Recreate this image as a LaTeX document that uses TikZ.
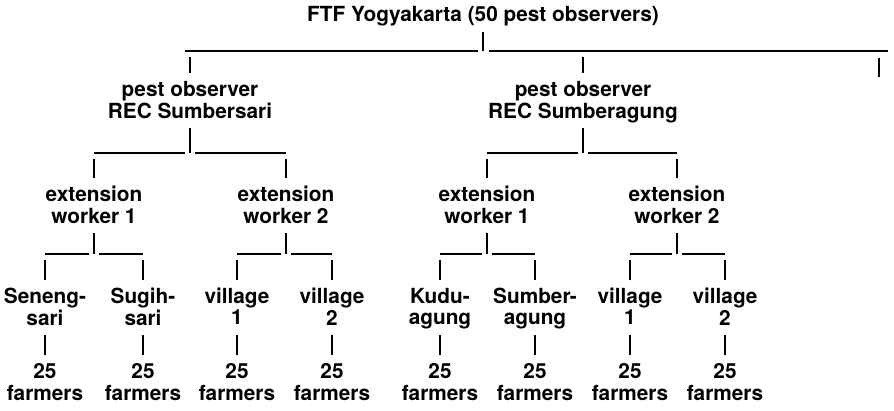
\documentclass[tikz,border=0pt]{standalone}
\usepackage{fontspec}
\setmainfont{TeX Gyre Heros}
\usetikzlibrary{calc}
\newcommand\twoline[2]{\begin{tabular}[t]{@{}c@{}}#1\\#2\end{tabular}}
\newcommand\fork[4]{%
  \draw[conn] (#1.south) -- (#1 |- #4);
  \draw[conn] ([xshift=-5pt]#1 |- #4) -- (#2 |- #4);
  \draw[conn] ([xshift=5pt]#1 |- #4) -- (#3 |- #4);
  \draw[conn] ([yshift=-6pt]#2 |- #4) -- (#2.north);
  \draw[conn] ([yshift=-6pt]#3 |- #4) -- (#3.north);
}
\begin{document}
\begin{tikzpicture}[x=1pt,y=-1pt,
  txt/.style={font=\fontsize{20.8}{20.5}\selectfont\bfseries, inner xsep=0pt, anchor=base},
  lbl/.style={txt, inner ysep=9pt, text height=15pt, text depth=21.5pt},
  ttl/.style={txt, inner ysep=6pt, text height=15pt, text depth=4pt},
  conn/.style={line width=1.1pt, line cap=butt}]
\useasboundingbox (0,0) rectangle (894,411);
\fill[white] (0,0) rectangle (894,411);

% title
\node[ttl] (root) at (483,22) {FTF Yogyakarta (50 pest observers)};

% level 1
\node[lbl] (p1) at (190,97) {\twoline{pest observer}{REC Sumbersari}};
\node[lbl] (p2) at (583,97) {\twoline{pest observer}{REC Sumberagung}};
\coordinate (p3) at (879,77);
\coordinate (barA) at (0,51);
\coordinate (barAend) at (888,51);

% level 2
\node[lbl] (e1) at (94,202) {\twoline{extension}{worker 1}};
\node[lbl] (e2) at (286,202) {\twoline{extension}{worker 2}};
\node[lbl] (e3) at (487,202) {\twoline{extension}{worker 1}};
\node[lbl] (e4) at (677,202) {\twoline{extension}{worker 2}};
\coordinate (barB) at (0,153);

% level 3
\node[lbl] (v1) at (45,304) {\twoline{Seneng-}{sari}};
\node[lbl] (v2) at (143,304) {\twoline{Sugih-}{sari}};
\node[lbl] (v3) at (237,304) {\twoline{village}{1}};
\node[lbl] (v4) at (332,304) {\twoline{village}{2}};
\node[lbl] (v5) at (440,304) {\twoline{Kudu-}{agung}};
\node[lbl] (v6) at (535,304) {\twoline{Sumber-}{agung}};
\node[lbl] (v7) at (630,304) {\twoline{village}{1}};
\node[lbl] (v8) at (725,304) {\twoline{village}{2}};
\coordinate (barC) at (0,254);

% farmers
\foreach \i/\x in {1/45,2/143,3/237,4/332,5/440,6/535,7/630,8/725}{
  \node[lbl] (f\i) at (\x,379) {\twoline{25}{farmers}};
}

% root connectors
\draw[conn] (root.south) -- (root |- barA);
\draw[conn] ([xshift=-5pt]root |- barA) -- ([xshift=-5pt]p1 |- barA);
\draw[conn] ([xshift=6pt]root |- barA) -- (barAend);
\draw[conn] ([yshift=-6pt]p1 |- barA) -- (p1.north);
\draw[conn] ([yshift=-6pt]p2 |- barA) -- (p2.north);
\draw[conn] ([yshift=-7pt]p3 |- barA) -- (p3);

% lower forks
\fork{p1}{e1}{e2}{barB}
\fork{p2}{e3}{e4}{barB}
\fork{e1}{v1}{v2}{barC}
\fork{e2}{v3}{v4}{barC}
\fork{e3}{v5}{v6}{barC}
\fork{e4}{v7}{v8}{barC}

\foreach \i in {1,...,8}{
  \draw[conn] (v\i.south) -- (f\i.north);
}
\end{tikzpicture}
\end{document}
